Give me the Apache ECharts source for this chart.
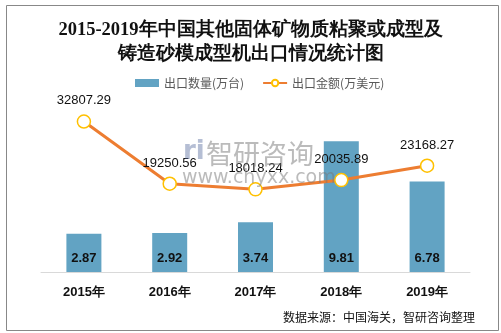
<!DOCTYPE html>
<html><head><meta charset="utf-8">
<script src="https://cdn.jsdelivr.net/npm/echarts@6/dist/echarts.min.js"></script>
<style>html,body{margin:0;padding:0;background:#fff}#c{width:501px;height:333px}</style>
</head><body><div id="c"></div>
<script>
const categories = ['2015年','2016年','2017年','2018年','2019年'];
const qtyValues = [2.87, 2.92, 3.74, 9.81, 6.78];
const amountValues = [32807.29, 19250.56, 18018.24, 20035.89, 23168.27];
const seriesNames = ['出口数量(万台)', '出口金额(万美元)'];
const titleLines = ['2015-2019年中国其他固体矿物质粘聚或成型及', '铸造砂模成型机出口情况统计图'];
const sourceText = '数据来源：中国海关，智研咨询整理';

const chart = echarts.init(document.getElementById('c'));
chart.setOption({
  animation: false,
  backgroundColor: '#fff',
  title: {
    text: titleLines.join('\n'),
    left: 'center', top: 13,
    textStyle: {fontFamily: 'serif', fontWeight: 'bold', fontSize: 18.5, lineHeight: 24, color: '#111'}
  },
  legend: {
    top: 72, left: 130, itemGap: 18,
    itemWidth: 24, itemHeight: 8,
    textStyle: {fontSize: 12, color: '#595959', fontFamily: 'Noto Sans CJK SC'},
    data: [
      {name: seriesNames[0], icon: 'rect'},
      {name: seriesNames[1]}
    ]
  },
  grid: {left: 41, right: 31, top: 72, bottom: 61},
  xAxis: {
    type: 'category', data: categories,
    axisLine: {lineStyle: {color: '#d9d9d9', width: 1}},
    axisTick: {show: false},
    axisLabel: {fontWeight: 'bold', fontSize: 13, color: '#111', margin: 14, fontFamily: 'Liberation Sans'}
  },
  yAxis: [
    {type: 'value', min: 0, max: 15, show: false, splitLine: {show: false}},
    {type: 'value', min: 0, max: 43600, show: false, splitLine: {show: false}}
  ],
  series: [
    {
      name: seriesNames[0], type: 'bar', data: qtyValues, barWidth: 35,
      itemStyle: {color: '#62A3C3'},
      label: {show: true, position: 'insideBottom', distance: 7, fontWeight: 'bold', fontSize: 13, color: '#111', fontFamily: 'Liberation Sans'}
    },
    {
      name: seriesNames[1], type: 'line', yAxisIndex: 1, data: amountValues,
      symbol: 'circle', symbolSize: 13,
      lineStyle: {color: '#ED7D31', width: 3},
      itemStyle: {color: '#fff', borderColor: '#FFC000', borderWidth: 1.5},
      label: {show: true, position: 'top', distance: 7, fontSize: 13, color: '#111', fontFamily: 'Liberation Sans', formatter: p => p.value.toFixed(2)}
    }
  ],
  graphic: [
    {type: 'rect', left: 4, top: 3, shape: {width: 492, height: 325}, style: {fill: 'none', stroke: '#888', lineWidth: 1}, silent: true},
    {type: 'text', left: 283, top: 311, style: {text: sourceText, fontSize: 12, fill: '#111', fontFamily: 'Noto Sans CJK SC'}},
    {type: 'text', left: 206, top: 140, z: 100, style: {text: '智研咨询', fontSize: 27, fill: 'rgba(120,120,120,0.5)', fontFamily: 'Noto Sans CJK SC'}},
    {type: 'text', left: 182, top: 169, z: 100, style: {text: 'www.chyxx.com', fontSize: 19, fill: 'rgba(120,120,120,0.5)', fontFamily: 'DejaVu Sans'}},
    {type: 'text', left: 183, top: 139, z: 100, style: {text: 'ri', fontSize: 26, fontWeight: 'bold', fill: 'rgba(90,110,160,0.45)', fontFamily: 'DejaVu Sans'}}
  ]
});
</script></body></html>
